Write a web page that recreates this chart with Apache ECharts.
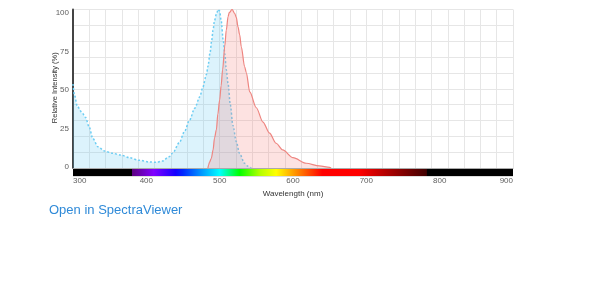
<!DOCTYPE html>
<html><head><meta charset="utf-8">
<script src="https://cdn.jsdelivr.net/npm/echarts@6/dist/echarts.min.js"></script>
<style>html,body{margin:0;padding:0;background:#fff}#c{width:609px;height:284px}</style>
</head><body><div id="c"></div>
<script>
// Excitation spectrum (wavelength nm, relative intensity %)
const excitation = [[300,53],[302,46],[306,38.7],[313,34.5],[317,32],[322,26],[327,18.7],[334,13.4],[343,10.7],[354,9.3],[365,8.2],[377,6.5],[390,4.9],[404,3.8],[413,3.6],[422,4.4],[431,7.1],[436,9.5],[445,16],[452,23],[459,30.3],[466,37.7],[473,45],[477,51],[482,59],[484,64],[487,73],[489,80],[491,87],[493,93],[495.5,97],[498,100],[500,99],[502,93],[505,80],[507,72],[509,62],[511.5,53],[514.5,40],[518,27],[522.7,16.6],[527,9.3],[534,3],[538,1.2],[543,0]];
// Emission spectrum
const emission = [[484,0],[485,2],[486,3.5],[488.6,6],[491,11.4],[493,19],[495.5,24],[497.5,34],[500,43],[502,52],[504,62],[507,77],[509,87],[511.5,95.5],[513,98],[517,100],[520.5,97.6],[522.7,95],[525,89],[527.3,84],[529.5,76.5],[534,64],[536.4,60],[541,48],[550,38],[559,29],[568,22],[577,15.6],[586,11.4],[600,6.5],[618,3],[636,1.3],[650,0.4],[652,0]];
const yTickLabels = [0,25,50,75,100];
// Visible spectrum colour bar (wavelength nm, colour)
const spectrumStops = [[300,'#000000'],[380,'#000000'],[380.5,'#5c0080'],[410,'#8000ff'],[440,'#1400ff'],[450,'#0028ff'],[475,'#0096ff'],[500,'#00ffff'],[527,'#00ff00'],[555,'#b4ff00'],[577,'#ffff00'],[600,'#ffa000'],[620,'#ff5000'],[640,'#ff0000'],[690,'#ff0000'],[782,'#400000'],[782.5,'#000000'],[900,'#000000']];

const chart = echarts.init(document.getElementById('c'), null, {renderer:'canvas'});
const labelFont = {fontFamily:'Liberation Sans, Arial, sans-serif', fontSize:8, color:'#606060'};
const option = {
  animation:false,
  backgroundColor:'#fff',
  grid:{left:73, right:96, top:9.5, bottom:116, containLabel:false},
  xAxis:[
    {type:'value', min:300, max:900, interval:100,
     axisLine:{show:true, lineStyle:{color:'#aaaaaa', width:1}},
     axisTick:{show:false}, splitLine:{show:false},
     axisLabel:Object.assign({margin:9, alignMinLabel:'left', alignMaxLabel:'right'}, labelFont),
     name:'Wavelength (nm)', nameLocation:'middle', nameGap:16,
     nameTextStyle:{fontFamily:'Liberation Sans, Arial, sans-serif', fontSize:8, color:'#333'}},
    {type:'value', min:0, max:27, interval:1, show:true, position:'top',
     axisLine:{show:false}, axisTick:{show:false}, axisLabel:{show:false},
     splitLine:{show:true, lineStyle:{color:'#e6e6e6', width:1}}}
  ],
  yAxis:[
    {type:'value', min:0, max:100, show:false},
    {type:'value', min:-0.65, max:102.27, position:'left',
     axisLine:{show:true, lineStyle:{color:'#444', width:2}},
     axisTick:{show:false}, splitLine:{show:false},
     axisLabel:Object.assign({margin:4, customValues:yTickLabels}, labelFont)},
    {type:'value', min:0, max:10, interval:1, show:true, position:'right',
     axisLine:{show:false}, axisTick:{show:false}, axisLabel:{show:false},
     splitLine:{show:true, lineStyle:{color:'#e6e6e6', width:1}}}
  ],
  series:[
    {type:'line', name:'Excitation', data:excitation, xAxisIndex:0, yAxisIndex:0,
     showSymbol:false, smooth:0.3, smoothMonotone:'x',
     lineStyle:{color:'#6ccdf3', width:1.5, type:[2,2]},
     areaStyle:{color:'rgba(91,200,240,0.3)'}, z:3},
    {type:'line', name:'Emission', data:emission, xAxisIndex:0, yAxisIndex:0,
     showSymbol:false, smooth:0.3, smoothMonotone:'x',
     lineStyle:{color:'#ee8580', width:1.2},
     areaStyle:{color:'rgba(245,120,115,0.3)'}, z:4}
  ]
};
chart.setOption(option);

const x0 = chart.convertToPixel({xAxisIndex:0}, 300);
const x1 = chart.convertToPixel({xAxisIndex:0}, 900);
const yb = chart.convertToPixel({yAxisIndex:0}, 0);
const yt = chart.convertToPixel({yAxisIndex:0}, 100);
const stops = spectrumStops.map(s => ({offset:(s[0]-300)/600, color:s[1]}));
chart.setOption({graphic:[
  {type:'rect', shape:{x:x0, y:yb+1, width:x1-x0, height:7},
   style:{fill:new echarts.graphic.LinearGradient(0,0,1,0,stops)}, z:10},
  {type:'line', shape:{x1:x0, y1:yb+8.5, x2:x1, y2:yb+8.5}, style:{stroke:'#dddddd', lineWidth:1}, z:10},
  {type:'text', x:55, y:(yb+yt)/2 - 1, rotation:Math.PI/2,
   style:{text:'Relative Intensity (%)', fill:'#333', font:'7.5px "Liberation Sans", Arial, sans-serif', align:'center', verticalMiddle:'middle', verticalAlign:'middle'}},
  {type:'text', left:49, top:204,
   style:{text:'Open in SpectraViewer', fill:'#2f8ad8', font:'13px "Liberation Sans", Arial, sans-serif'}}
]});
</script></body></html>
